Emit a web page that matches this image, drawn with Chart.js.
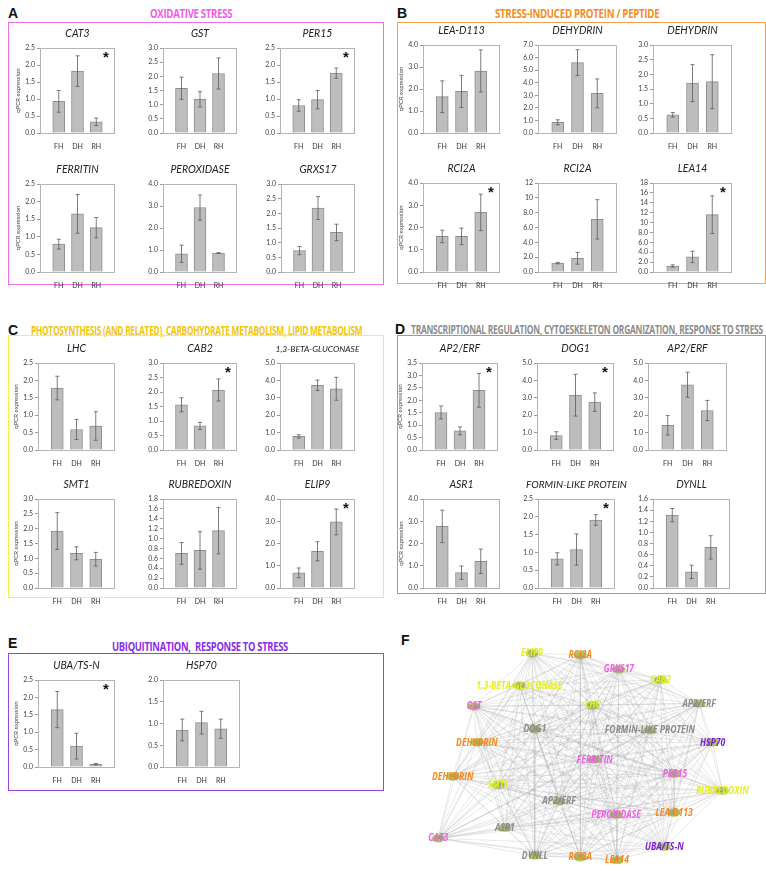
<!DOCTYPE html>
<html>
<head>
<meta charset="utf-8">
<script src="https://cdn.jsdelivr.net/npm/chart.js@4.4.1/dist/chart.umd.min.js"></script>
<style>
  body { margin: 0; background: #fff; width: 766px; height: 870px; position: relative; overflow: hidden; }
  canvas { position: absolute; }
  .box { position: absolute; border: 1.5px solid; box-sizing: border-box; }
  .letter { position: absolute; font: bold 14px "Liberation Sans", Arial, sans-serif; color: #111; line-height: 14px; }
  .head { position: absolute; font: bold 13px "Open Sans", sans-serif; letter-spacing: -0.4px; white-space: nowrap;
          line-height: 14px; transform-origin: 0 50%; }
</style>
</head>
<body>

<div class="letter" style="left:8px;top:6px">A</div>
<div class="letter" style="left:397px;top:6px">B</div>
<div class="letter" style="left:8px;top:323px">C</div>
<div class="letter" style="left:395px;top:322px">D</div>
<div class="letter" style="left:8px;top:636px">E</div>
<div class="letter" style="left:401px;top:633px">F</div>

<div class="head" data-w="82" style="left:150px;top:6px;color:#f25ce8">OXIDATIVE STRESS</div>
<div class="head" data-w="164" style="left:495px;top:6px;color:#f58c1e">STRESS-INDUCED PROTEIN / PEPTIDE</div>
<div class="head" data-w="331" style="left:31px;top:323px;color:#f2c40e">PHOTOSYNTHESIS (AND RELATED), CARBOHYDRATE METABOLISM, LIPID METABOLISM</div>
<div class="head" data-w="352" style="left:411px;top:322px;color:#8c8c8c">TRANSCRIPTIONAL REGULATION, CYTOESKELETON ORGANIZATION, RESPONSE TO STRESS</div>
<div class="head" data-w="176" style="left:112px;top:639px;color:#8a2ee6">UBIQUITINATION,&nbsp; RESPONSE TO STRESS</div>

<div class="box" style="left:8px;top:22px;width:376px;height:263px;border-color:#ee6ee8"></div>
<div class="box" style="left:397px;top:22px;width:369px;height:262px;border-color:#f3a04e"></div>
<div class="box" style="left:8px;top:335px;width:376px;height:263px;border-color:#f4f04c"></div>
<div class="box" style="left:397px;top:335px;width:369px;height:259px;border-color:#9c9c9c"></div>
<div class="box" style="left:8px;top:653px;width:376px;height:138px;border-color:#9444e2"></div>

<script>
const groups = ['FH', 'DH', 'RH'];

// oxidative stress
const cat3 = [0.93, 1.82, 0.33],       cat3Err = [0.32, 0.45, 0.11];
const gst = [1.58, 1.19, 2.10],        gstErr = [0.39, 0.27, 0.55];
const per15 = [0.81, 0.98, 1.76],      per15Err = [0.17, 0.27, 0.15];
const ferritin = [0.79, 1.65, 1.26],   ferritinErr = [0.14, 0.55, 0.29];
const peroxidase = [0.83, 2.93, 0.86], peroxidaseErr = [0.39, 0.57, 0.02];
const grxs17 = [0.73, 2.18, 1.35],     grxs17Err = [0.14, 0.39, 0.28];

// stress-induced protein / peptide
const leaD113 = [1.65, 1.89, 2.82],    leaD113Err = [0.72, 0.73, 0.96];
const dehydrinA = [0.85, 5.60, 3.15],  dehydrinAErr = [0.20, 1.02, 1.15];
const dehydrinB = [0.62, 1.70, 1.75],  dehydrinBErr = [0.08, 0.63, 0.92];
const rci2aA = [1.60, 1.60, 2.68],     rci2aAErr = [0.28, 0.37, 0.82];
const rci2aB = [1.20, 1.85, 7.10],     rci2aBErr = [0.10, 0.80, 2.65];
const lea14 = [1.20, 3.05, 11.6],      lea14Err = [0.25, 1.15, 3.80];

// photosynthesis, carbohydrate and lipid metabolism
const lhc = [1.78, 0.59, 0.69],        lhcErr = [0.34, 0.29, 0.41];
const cab2 = [1.56, 0.83, 2.07],       cab2Err = [0.24, 0.12, 0.38];
const gluconase = [0.78, 3.72, 3.52],  gluconaseErr = [0.10, 0.30, 0.66];
const smt1 = [1.92, 1.17, 0.97],       smt1Err = [0.62, 0.22, 0.23];
const rubredoxin = [0.70, 0.76, 1.16], rubredoxinErr = [0.22, 0.38, 0.47];
const elip9 = [0.68, 1.65, 2.97],      elip9Err = [0.22, 0.43, 0.58];

// transcriptional regulation, cytoskeleton, stress response
const ap2erfA = [1.51, 0.77, 2.40],    ap2erfAErr = [0.26, 0.16, 0.68];
const dog1 = [0.83, 3.15, 2.75],       dog1Err = [0.22, 1.20, 0.53];
const ap2erfB = [1.42, 3.75, 2.27],    ap2erfBErr = [0.56, 0.72, 0.58];
const asr1 = [2.77, 0.69, 1.20],       asr1Err = [0.73, 0.30, 0.55];
const formin = [0.82, 1.08, 1.91],     forminErr = [0.17, 0.44, 0.15];
const dynll = [1.31, 0.29, 0.73],      dynllErr = [0.12, 0.12, 0.21];

// ubiquitination
const uba = [1.65, 0.60, 0.08],        ubaErr = [0.52, 0.37, 0.02];
const hsp70 = [0.85, 1.02, 0.88],      hsp70Err = [0.25, 0.26, 0.22];

// gene, values, errors, y max, y step, significance star, y title
const plots = [
  ['CAT3', cat3, cat3Err, 2.5, 0.5, true, true],
  ['GST', gst, gstErr, 3.0, 0.5, false, false],
  ['PER15', per15, per15Err, 2.5, 0.5, true, false],
  ['FERRITIN', ferritin, ferritinErr, 2.5, 0.5, false, true],
  ['PEROXIDASE', peroxidase, peroxidaseErr, 4.0, 1.0, false, false],
  ['GRXS17', grxs17, grxs17Err, 3.0, 0.5, false, false],

  ['LEA-D113', leaD113, leaD113Err, 4.0, 1.0, false, true],
  ['DEHYDRIN', dehydrinA, dehydrinAErr, 7.0, 1.0, false, false],
  ['DEHYDRIN', dehydrinB, dehydrinBErr, 3.0, 0.5, false, false],
  ['RCI2A', rci2aA, rci2aAErr, 4.0, 1.0, true, true],
  ['RCI2A', rci2aB, rci2aBErr, 12, 2, false, false],
  ['LEA14', lea14, lea14Err, 18, 2, true, false],

  ['LHC', lhc, lhcErr, 2.5, 0.5, false, true],
  ['CAB2', cab2, cab2Err, 3.0, 0.5, true, false],
  ['1,3-BETA-GLUCONASE', gluconase, gluconaseErr, 5.0, 1.0, false, false],
  ['SMT1', smt1, smt1Err, 3.0, 0.5, false, true],
  ['RUBREDOXIN', rubredoxin, rubredoxinErr, 1.8, 0.2, false, false],
  ['ELIP9', elip9, elip9Err, 4.0, 1.0, true, false],

  ['AP2/ERF', ap2erfA, ap2erfAErr, 3.5, 0.5, true, true],
  ['DOG1', dog1, dog1Err, 5.0, 1.0, true, false],
  ['AP2/ERF', ap2erfB, ap2erfBErr, 5.0, 1.0, false, false],
  ['ASR1', asr1, asr1Err, 4.0, 1.0, false, true],
  ['FORMIN-LIKE PROTEIN', formin, forminErr, 2.5, 0.5, true, false],
  ['DYNLL', dynll, dynllErr, 1.6, 0.2, false, false],

  ['UBA/TS-N', uba, ubaErr, 2.5, 0.5, true, true],
  ['HSP70', hsp70, hsp70Err, 2.0, 0.5, false, false]
];

// plot area of each small chart: left, top, width, height
const cells = [
  [40, 48, 75, 85], [163, 48, 74, 85], [280, 48, 75, 85],
  [40, 184, 75, 88], [163, 184, 74, 88], [281, 184, 74, 88],
  [423, 45, 77, 88], [538, 45, 79, 88], [653, 45, 79, 88],
  [423, 183, 77, 89], [538, 183, 79, 89], [653, 183, 79, 89],
  [38, 363, 77, 87], [163, 363, 74, 87], [280, 363, 75, 87],
  [38, 499, 77, 89], [163, 499, 74, 89], [280, 499, 75, 89],
  [422, 363, 76, 87], [537, 363, 77, 87], [648, 363, 79, 87],
  [423, 499, 77, 89], [538, 499, 77, 89], [653, 499, 77, 89],
  [38, 680, 77, 87], [163, 680, 77, 87]
];

// long gene names are set smaller
const titleSize = { '1,3-BETA-GLUCONASE': 8.5, 'FORMIN-LIKE PROTEIN': 10 };

// network nodes (layout units), label and functional group
const nodeLabel = ['ELIP9', 'RCI2A', 'GRXS17', 'CAB2', '1,3-BETA-GLUCONASE', 'GST', 'LHC', 'AP2/ERF',
  'DOG1', 'FORMIN-LIKE PROTEIN', 'DEHYDRIN', 'HSP70', 'FERRITIN', 'DEHYDRIN', 'PER15', 'SMT1',
  'RUBREDOXIN', 'AP2/ERF', 'PEROXIDASE', 'LEA-D113', 'ASR1', 'CAT3', 'UBA/TS-N', 'DYNLL', 'RCI2A', 'LEA14'];
const nodeX = [120, 170, 210, 253, 107, 60, 183, 293, 123, 242, 63, 307, 185, 38, 268, 85,
  317, 148, 207, 267, 92, 23, 257, 123, 170, 208];
const nodeY = [18, 20, 35, 46, 52, 74, 73, 71, 98, 99, 112, 112, 130, 148, 145, 157,
  163, 174, 188, 186, 202, 213, 222, 231, 233, 236];
const nodeGroup = ['photo', 'stress', 'ox', 'photo', 'photo', 'ox', 'photo', 'trans',
  'trans', 'trans', 'stress', 'ubi', 'ox', 'stress', 'ox', 'photo',
  'photo', 'trans', 'ox', 'stress', 'trans', 'ox', 'ubi', 'trans', 'stress', 'stress'];

const groupColor = { ox: '#f25de9', stress: '#f5891c', photo: '#e6f01c', trans: '#8b8b8b', ubi: '#7b1fd6' };

// error bars over each bar
const errorBars = {
  id: 'errorBars',
  afterDatasetsDraw(chart) {
    const ds = chart.data.datasets[0];
    const meta = chart.getDatasetMeta(0);
    const y = chart.scales.y;
    const ctx = chart.ctx;
    ctx.save();
    ctx.strokeStyle = '#5a5a5a';
    ctx.lineWidth = 0.8;
    meta.data.forEach((bar, i) => {
      const v = ds.data[i], e = ds.err[i];
      if (v == null) return;
      const top = y.getPixelForValue(v + e), bot = y.getPixelForValue(Math.max(0, v - e));
      ctx.beginPath();
      ctx.moveTo(bar.x, top); ctx.lineTo(bar.x, bot);
      ctx.moveTo(bar.x - 2, top); ctx.lineTo(bar.x + 2, top);
      ctx.moveTo(bar.x - 2, bot); ctx.lineTo(bar.x + 2, bot);
      ctx.stroke();
    });
    ctx.restore();
  }
};

// box round the plot area, the gene name above it and the significance star
const frame = {
  id: 'frame',
  afterDraw(chart, args, opts) {
    const a = chart.chartArea, ctx = chart.ctx;
    ctx.save();
    ctx.strokeStyle = '#b4b4b4';
    ctx.lineWidth = 1;
    ctx.strokeRect(a.left + 0.5, a.top + 0.5, a.right - a.left - 1, a.bottom - a.top);

    ctx.fillStyle = '#222';
    ctx.font = 'italic ' + (titleSize[opts.gene] || 10.5) + 'px Lato';
    ctx.textAlign = 'center';
    ctx.textBaseline = 'middle';
    ctx.fillText(opts.gene, (a.left + a.right) / 2, a.top - 14);

    if (opts.star) {
      ctx.fillStyle = '#111';
      ctx.font = 'bold 15px "Liberation Sans", Arial';
      ctx.textBaseline = 'top';
      ctx.fillText('*', a.right - 9, a.top + 2);
    }
    ctx.restore();
  }
};

const padL = 32, padT = 21, padB = 16, padR = 18;

function barChart(p, cell) {
  const [gene, vals, errs, max, step, star, yTitle] = p;
  const [x, y, w, h] = cell;
  const c = document.createElement('canvas');
  c.width = w + padL + padR;
  c.height = h + padT + padB;
  c.style.left = (x - padL) + 'px';
  c.style.top = (y - padT) + 'px';
  document.body.appendChild(c);

  new Chart(c, {
    type: 'bar',
    data: {
      labels: ['', ...groups, ''],
      datasets: [{
        data: [null, ...vals, null],
        err: [null, ...errs, null],
        backgroundColor: '#bdbdbd',
        borderColor: '#8e8e8e',
        borderWidth: 1,
        barThickness: 12
      }]
    },
    options: {
      responsive: false,
      animation: false,
      events: [],
      layout: { padding: { left: 0, right: padR, top: padT, bottom: 0 } },
      plugins: {
        legend: { display: false },
        tooltip: { enabled: false },
        frame: { gene: gene, star: star }
      },
      scales: {
        x: {
          offset: false,
          grid: { display: false },
          border: { display: false },
          ticks: { color: '#333', font: { family: 'Lato', size: 7 }, padding: 2, autoSkip: false, maxRotation: 0 },
          afterFit: s => { s.height = padB; }
        },
        y: {
          min: 0,
          max: max,
          ticks: {
            stepSize: step,
            autoSkip: false,
            color: '#444',
            font: { family: 'Lato', size: 7 },
            padding: 2,
            callback: v => v >= 10 ? String(v) : v.toFixed(1)
          },
          grid: { drawOnChartArea: false, tickLength: 3, color: '#9a9a9a' },
          border: { color: '#b4b4b4' },
          title: {
            display: yTitle,
            text: 'qPCR expression',
            color: '#444',
            font: { family: 'Lato', size: 6 },
            padding: { top: 6, bottom: 0 }
          },
          afterFit: s => { s.width = padL; }
        }
      }
    },
    plugins: [errorBars, frame]
  });
}

plots.forEach((p, i) => barChart(p, cells[i]));

// ---- co-expression network ----
function nodeImage() {
  const c = document.createElement('canvas');
  c.width = 14; c.height = 9;
  const ctx = c.getContext('2d');
  ctx.fillStyle = 'rgba(160,190,70,0.9)';
  ctx.beginPath();
  ctx.ellipse(7, 4.5, 6.5, 4, 0, 0, Math.PI * 2);
  ctx.fill();
  return c;
}

const nodes = nodeX.map((x, i) => ({ x: x, y: nodeY[i] }));
const edges = [];
for (let i = 0; i < nodes.length; i++) {
  for (let j = i + 1; j < nodes.length; j++) {
    edges.push(nodes[i], nodes[j], { x: null, y: null });
  }
}

const nodeLabels = {
  id: 'nodeLabels',
  afterDatasetsDraw(chart) {
    const meta = chart.getDatasetMeta(1), ctx = chart.ctx;
    ctx.save();
    ctx.font = 'italic bold 11px "Open Sans"';
    ctx.textAlign = 'center';
    ctx.textBaseline = 'middle';
    meta.data.forEach((pt, i) => {
      ctx.save();
      ctx.translate(pt.x, pt.y);
      ctx.scale(0.78, 1);
      ctx.fillStyle = groupColor[nodeGroup[i]];
      ctx.fillText(nodeLabel[i], 0, 0);
      ctx.restore();
    });
    ctx.restore();
  }
};

const net = document.createElement('canvas');
net.width = 356; net.height = 240;
net.style.left = '410px'; net.style.top = '630px';
document.body.appendChild(net);

new Chart(net, {
  type: 'scatter',
  data: {
    datasets: [
      {
        data: edges,
        showLine: true,
        spanGaps: false,
        borderColor: 'rgba(150,150,150,0.3)',
        borderWidth: 0.7,
        pointRadius: 0
      },
      {
        data: nodes,
        pointStyle: nodeImage(),
        pointRadius: 5
      }
    ]
  },
  options: {
    responsive: false,
    animation: false,
    events: [],
    layout: { padding: 0 },
    plugins: { legend: { display: false }, tooltip: { enabled: false } },
    scales: {
      x: { display: false, min: 0, max: 356 },
      y: { display: false, min: 0, max: 240, reverse: true }
    }
  },
  plugins: [nodeLabels]
});

// squeeze the section headings to their width
document.querySelectorAll('.head').forEach(el => {
  const k = el.dataset.w / el.offsetWidth;
  el.style.transform = 'scaleX(' + k + ')';
});
</script>
</body>
</html>
